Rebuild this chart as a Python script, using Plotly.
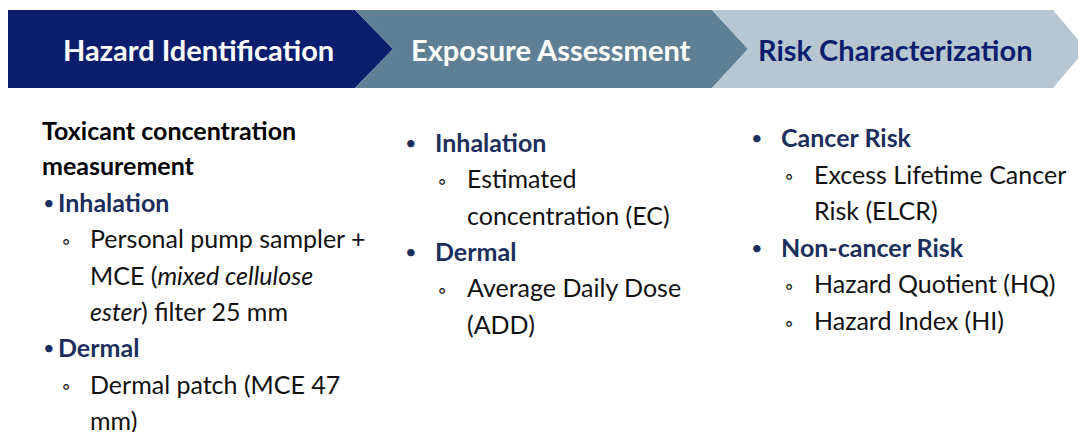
import plotly.graph_objects as go

W, H = 1086, 432
OFF = 8  # browser body margin

# ---- content ----
stage_titles = ["Hazard Identification", "Exposure Assessment", "Risk Characterization"]
stage_colors = ["#0B1E6E", "#5F7F94", "#B6C6D2"]
stage_text_colors = ["#FFFFFF", "#FFFFFF", "#0B1E6E"]

col1_header = ["Toxicant concentration", "measurement"]
col1_items = [
    ("bullet", "Inhalation"),
    ("sub", "Personal pump sampler +"),
    ("cont", "MCE (<i>mixed cellulose</i>"),
    ("cont", "<i>ester</i>) filter 25 mm"),
    ("bullet", "Dermal"),
    ("sub", "Dermal patch (MCE 47"),
    ("cont", "mm)"),
]
col2_items = [
    ("bullet", "Inhalation"),
    ("sub", "Estimated"),
    ("cont", "concentration (EC)"),
    ("bullet", "Dermal"),
    ("sub", "Average Daily Dose"),
    ("cont", "(ADD)"),
]
col3_items = [
    ("bullet", "Cancer Risk"),
    ("sub", "Excess Lifetime Cancer"),
    ("cont", "Risk (ELCR)"),
    ("bullet", "Non-cancer Risk"),
    ("sub", "Hazard Quotient (HQ)"),
    ("sub", "Hazard Index (HI)"),
]

FONT = "Lato"
HEAD_COLOR = "#1C2F5C"
BODY_COLOR = "#111111"
BODY_SIZE = 25

fig = go.Figure()

# chevron arrows
top, bot, mid = 10, 88, 49
arrows = [
    f"M 8,{top} L 355,{top} L 393,{mid} L 355,{bot} L 8,{bot} Z",
    f"M 355,{top} L 712,{top} L 748,{mid} L 712,{bot} L 355,{bot} L 393,{mid} Z",
    f"M 712,{top} L 1053,{top} L 1086,{mid} L 1053,{bot} L 712,{bot} L 748,{mid} Z",
]
for p, c in zip(arrows, stage_colors):
    fig.add_shape(type="path", path=p, fillcolor=c, line=dict(width=0), xref="x", yref="y", layer="below")

title_x = [198, 551, 895]
for t, x, tc in zip(stage_titles, title_x, stage_text_colors):
    fig.add_annotation(x=x, y=mid, text=f"<b>{t}</b>", showarrow=False, xanchor="center", yanchor="middle",
                       font=dict(family=FONT, size=29, color=tc))

def add_text(x, y, text, size=BODY_SIZE, color=BODY_COLOR, bold=False):
    if bold:
        text = f"<b>{text}</b>"
    fig.add_annotation(x=x, y=y, text=text, showarrow=False, xanchor="left", yanchor="middle",
                       font=dict(family=FONT, size=size, color=color))

def add_column(items, y0, step, bx, tx, sbx, stx):
    y = y0
    for kind, txt in items:
        if kind == "bullet":
            add_text(bx, y, "•", size=20, color=HEAD_COLOR)
            add_text(tx, y, txt, color=HEAD_COLOR, bold=True)
        elif kind == "sub":
            add_text(sbx, y + 2, "◦", size=21, color=BODY_COLOR)
            add_text(stx, y, txt)
        else:
            add_text(stx, y, txt)
        y += step

# column 1
add_text(40, 130, col1_header[0], bold=True, color="#000000")
add_text(40, 165, col1_header[1], bold=True, color="#000000")
add_column(col1_items, 202, 36.3, 41, 56, 60, 88)
# column 2
add_column(col2_items, 142, 36.3, 403, 433, 436, 465)
# column 3
add_column(col3_items, 137, 36.6, 749, 779, 783, 812)

fig.update_layout(
    width=W - OFF, height=H - OFF, autosize=False,
    margin=dict(l=0, r=0, t=0, b=0),
    paper_bgcolor="white", plot_bgcolor="white",
    xaxis=dict(range=[OFF, W], visible=False, fixedrange=True),
    yaxis=dict(range=[H, OFF], visible=False, fixedrange=True),
    showlegend=False,
)
fig.write_html("out.html")
